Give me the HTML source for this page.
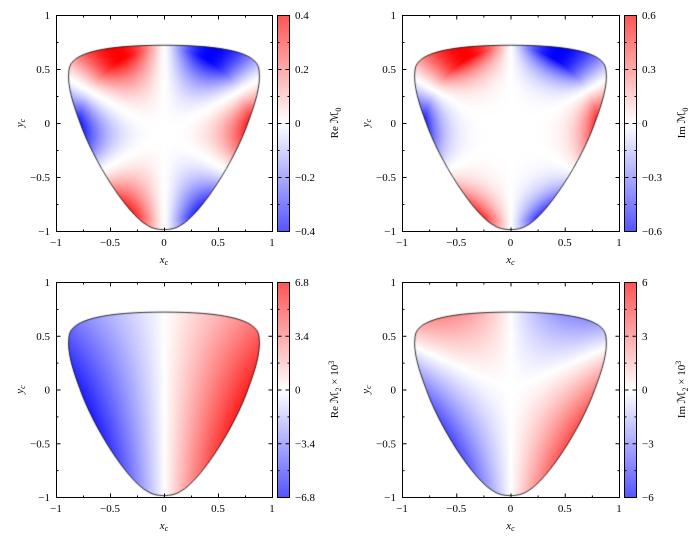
<!DOCTYPE html><html><head><style>
body{margin:0;background:#fff;width:694px;height:540px;overflow:hidden;position:relative;font-family:"Liberation Serif",serif}
canvas{position:absolute}
svg{position:absolute;left:0;top:0}
</style></head><body>
<canvas id="c0"></canvas><canvas id="c1"></canvas><canvas id="c2"></canvas><canvas id="c3"></canvas>
<svg id="s" width="694" height="540" font-family="Liberation Serif, serif" font-size="11"></svg>
<script>
function sp(c,g){return Math.sign(c)*Math.pow(Math.abs(c),g);}
const P=[
 {x:56,y:15,w:216,h:216,cb:277,ticks:["0.4","0.2","0","\u22120.2","\u22120.4"],lab:"Re \u2133",sub:"0",f:(x,y)=>{const t=Math.atan2(y+0.1,x),r=Math.hypot(x,y+0.1);return sp(Math.cos(3*t),1.3)*Math.min(1,r*r*r*2.0);}},
 {x:402,y:15,w:217,h:216,cb:624,ticks:["0.6","0.3","0","\u22120.3","\u22120.6"],lab:"Im \u2133",sub:"0",f:(x,y)=>{const t=Math.atan2(y+0.1,x),r=Math.hypot(x,y+0.1);return sp(Math.cos(3*t),1.2)*Math.min(1,Math.pow(r,5)*3.0);}},
 {x:56,y:282,w:216,h:215,cb:277,ticks:["6.8","3.4","0","\u22123.4","\u22126.8"],lab:"Re \u2133",sub:"2",x3:1,f:(x,y)=>Math.max(-1,Math.min(1,x*1.4*(0.8-0.55*y)))},
 {x:402,y:282,w:217,h:215,cb:624,ticks:["6","3","0","\u22123","\u22126"],lab:"Im \u2133",sub:"2",x3:1,f:(x,y)=>Math.max(-1,Math.min(1,-x*1.8*(y-0.45*Math.abs(x))))}
];
const path="M0,0.72 C0.52,0.72 0.87,0.66 0.88,0.49 C0.9,0.35 0.84,0.17 0.78,0.01 C0.66,-0.34 0.34,-0.85 0.15,-0.95 C0.08,-1.0 -0.08,-1.0 -0.15,-0.95 C-0.34,-0.85 -0.66,-0.34 -0.78,0.01 C-0.84,0.17 -0.9,0.35 -0.88,0.49 C-0.87,0.66 -0.52,0.72 0,0.72 Z";
function col(v){v=Math.max(-1,Math.min(1,v));const a=Math.abs(v);const k=Math.round(255*(1-a));return v>=0?[255,k,k]:[k,k,255];}
let s='';
P.forEach((p,i)=>{
 const c=document.getElementById('c'+i);c.width=p.w;c.height=p.h;c.style.left=p.x+'px';c.style.top=p.y+'px';
 const g=c.getContext('2d');const im=g.createImageData(p.w,p.h);
 for(let j=0;j<p.h;j++)for(let k=0;k<p.w;k++){const X=-1+2*k/p.w,Y=1-2*j/p.h;const cc=col(p.f(X,Y));const o=4*(j*p.w+k);im.data[o]=cc[0];im.data[o+1]=cc[1];im.data[o+2]=cc[2];im.data[o+3]=255;}
 const tmp=document.createElement('canvas');tmp.width=p.w;tmp.height=p.h;tmp.getContext('2d').putImageData(im,0,0);
 const sx=p.w/2,sy=p.h/2;
 g.save();g.translate(sx,sy);g.scale(sx,-sy);const pp=new Path2D(path);g.clip(pp);g.setTransform(1,0,0,1,0,0);g.drawImage(tmp,0,0);g.restore();
 g.save();g.translate(sx,sy);g.scale(sx,-sy);g.lineWidth=0.8/sx;g.strokeStyle='#000';g.stroke(pp);g.restore();
 s+=`<rect x="${p.x+.5}" y="${p.y+.5}" width="${p.w}" height="${p.h}" fill="none" stroke="#000"/>`;
 for(let q=0;q<=8;q++){const len=q%2?2:4;const tx=p.x+.5+q*p.w/8,ty=p.y+.5+q*p.h/8;
  s+=`<path d="M${tx},${p.y+.5}v${len}M${tx},${p.y+p.h+.5}v${-len}M${p.x+.5},${ty}h${len}M${p.x+p.w+.5},${ty}h${-len}" stroke="#000"/>`;}
 const xl=["\u22121","\u22120.5","0","0.5","1"];const yl=["1","0.5","0","\u22120.5","\u22121"];
 for(let q=0;q<5;q++){s+=`<text x="${p.x+q*p.w/4}" y="${p.y+p.h+15}" text-anchor="middle">${xl[q]}</text>`;
  s+=`<text x="${p.x-6}" y="${p.y+q*p.h/4+4}" text-anchor="end">${yl[q]}</text>`;}
 s+=`<text x="${p.x+p.w/2}" y="${p.y+p.h+32}" text-anchor="middle" font-style="italic">x<tspan font-size="8" dy="2">c</tspan></text>`;
 s+=`<text transform="translate(${p.x-33},${p.y+p.h/2}) rotate(-90)" text-anchor="middle" font-style="italic">y<tspan font-size="8" dy="2">c</tspan></text>`;
 s+=`<defs><linearGradient id="g${i}" x1="0" y1="0" x2="0" y2="1"><stop offset="0" stop-color="#f55"/><stop offset="0.5" stop-color="#fff"/><stop offset="1" stop-color="#55f"/></linearGradient></defs>`;
 s+=`<rect x="${p.cb+.5}" y="${p.y+.5}" width="12" height="${p.h}" fill="url(#g${i})" stroke="#000"/>`;
 for(let q=0;q<=8;q++){const ty=p.y+.5+q*p.h/8;const len=q%2?2:4;s+=`<path d="M${p.cb+.5},${ty}h${len}M${p.cb+12.5},${ty}h${-len}" stroke="#000"/>`;}
 for(let q=0;q<5;q++)s+=`<text x="${p.cb+18}" y="${p.y+q*p.h/4+4}">${p.ticks[q]}</text>`;
 s+=`<text transform="translate(${p.cb+61},${p.y+p.h/2}) rotate(-90)" text-anchor="middle">${p.lab}<tspan font-size="8" dy="3">${p.sub}</tspan><tspan dy="-3">${p.x3?' \u00d7 10':''}</tspan>${p.x3?'<tspan font-size="8" dy="-4">3</tspan>':''}</text>`;
});
document.getElementById('s').innerHTML=s;
</script></body></html>
